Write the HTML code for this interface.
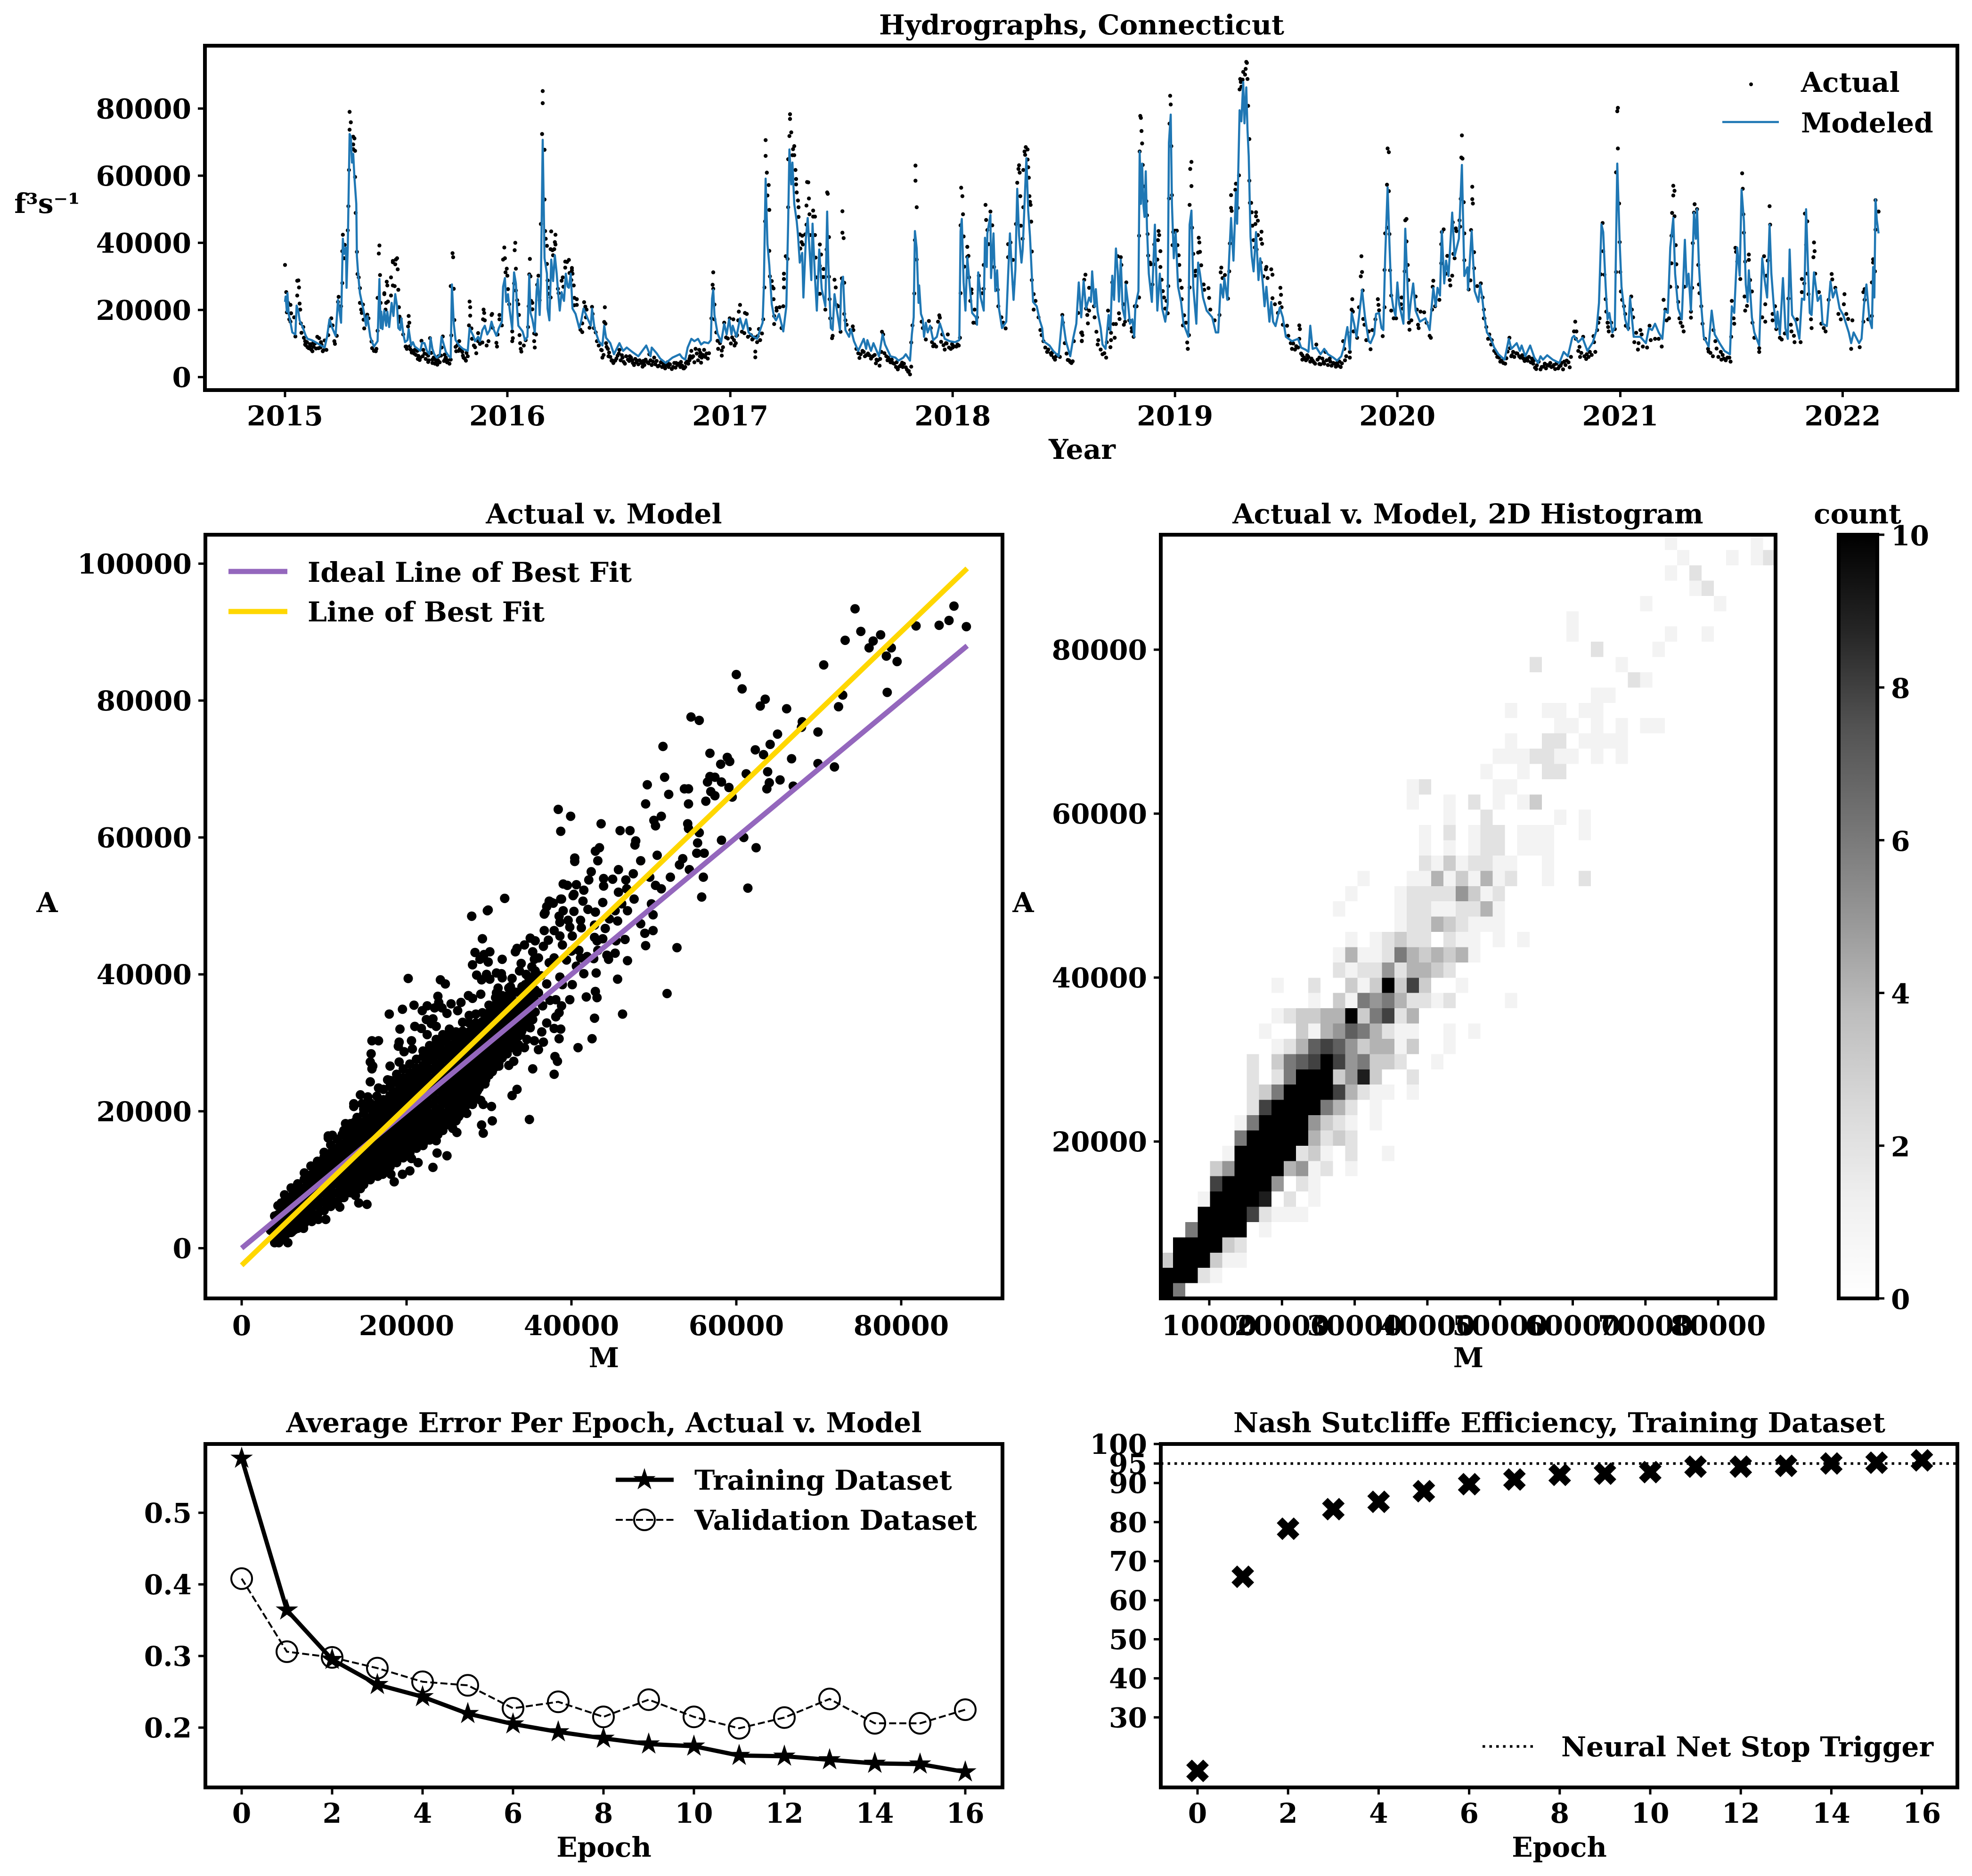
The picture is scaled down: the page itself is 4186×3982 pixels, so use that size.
<!DOCTYPE html>
<html>
<head>
<meta charset="utf-8">
<title>Hydrographs, Connecticut</title>
<style>
html,body{margin:0;padding:0;background:#fff}
svg{display:block}
text{font-family:"DejaVu Serif","Liberation Serif",serif;font-weight:bold;fill:#000;font-size:58.2px}
.title{text-anchor:middle}
.mid{text-anchor:middle}
.frame{fill:none;stroke:#000;stroke-width:8}
</style>
</head>
<body>
<svg id="figure" xmlns="http://www.w3.org/2000/svg" width="4186" height="3982" viewBox="0 0 4186 3982">
<defs>
<linearGradient id="greys" x1="0" y1="1" x2="0" y2="0">
<stop offset="0" stop-color="#ffffff"/><stop offset="0.125" stop-color="#f0f0f0"/><stop offset="0.25" stop-color="#d9d9d9"/><stop offset="0.375" stop-color="#bdbdbd"/><stop offset="0.5" stop-color="#969696"/><stop offset="0.625" stop-color="#737373"/><stop offset="0.75" stop-color="#525252"/><stop offset="0.875" stop-color="#252525"/><stop offset="1" stop-color="#000000"/>
</linearGradient>
</defs>
<rect width="4186" height="3982" fill="#fff"/>
<g id="hydro-marks"></g>
<g id="scatter-marks"></g>
<g id="hist-marks"></g>
<g id="error-marks"></g>
<g id="nse-marks"></g>
<rect x="3903" y="1135" width="82" height="1621" fill="url(#greys)"/>

<rect class="frame" x="435" y="97" width="3720" height="731"/>
<rect class="frame" x="436" y="1135" width="1692" height="1621"/>
<rect class="frame" x="2464" y="1135" width="1305" height="1621"/>
<rect class="frame" x="3903" y="1135" width="82" height="1621"/>
<rect class="frame" x="436" y="3065" width="1692" height="729"/>
<rect class="frame" x="2464" y="3065" width="1691" height="729"/>
<g id="ticks"></g>

<text class="title" x="2296" y="73">Hydrographs, Connecticut</text>
<text class="mid" x="2297" y="974">Year</text>
<text class="mid" x="100" y="452">f³s⁻¹</text>
<text x="3823" y="195">Actual</text>
<text x="3823" y="281">Modeled</text>
<circle cx="3717" cy="179" r="4" fill="#000"/>
<line x1="3656" y1="259" x2="3776" y2="259" stroke="#1f77b4" stroke-width="4.5"/>

<text class="title" x="1282" y="1111">Actual v. Model</text>
<text class="mid" x="1282" y="2902">M</text>
<text class="mid" x="100" y="1936">A</text>
<line x1="485" y1="1213" x2="610" y2="1213" stroke="#9467bd" stroke-width="11"/>
<line x1="485" y1="1298" x2="610" y2="1298" stroke="#ffd700" stroke-width="11"/>
<text x="653" y="1235">Ideal Line of Best Fit</text>
<text x="653" y="1319">Line of Best Fit</text>

<text class="title" x="3116" y="1111">Actual v. Model, 2D Histogram</text>
<text class="title" x="3943" y="1111">count</text>
<text class="mid" x="3117" y="2902">M</text>
<text class="mid" x="2172" y="1936">A</text>

<text class="title" x="1282" y="3040">Average Error Per Epoch, Actual v. Model</text>
<text class="mid" x="1282" y="3941">Epoch</text>
<text x="1474" y="3162">Training Dataset</text>
<text x="1474" y="3247">Validation Dataset</text>
<g id="error-legend"></g>

<text class="title" x="3310" y="3040">Nash Sutcliffe Efficiency, Training Dataset</text>
<text class="mid" x="3310" y="3941">Epoch</text>
<line x1="3147" y1="3707" x2="3255" y2="3707" stroke="#000" stroke-width="5.5" stroke-dasharray="5.5 9"/>
<text x="3314" y="3728">Neural Net Stop Trigger</text>
</svg>
<script>
// ---------- HYDROGRAPH DATA (days since 2015-01-01; flow in hundreds of f3/s) ----------
const yearLabels=[2015,2016,2017,2018,2019,2020,2021,2022];
const yearDays=[0,365,731,1096,1461,1826,2192,2557];
const hydroYTicks=[0,20000,40000,60000,80000];
const modeledDays=[0,1,3,4,6,10,12,17,19,22,24,29,34,37,44,50,59,65,69,73,77,83,87,92,95,97,100,101,103,106,108,110,112,114,117,118,120,123,126,129,133,135,138,140,143,146,152,155,157,158,160,163,166,168,171,175,178,181,184,186,189,191,194,197,201,203,207,210,213,218,222,225,229,233,237,239,242,245,249,254,257,260,264,269,272,274,277,280,286,292,300,303,309,312,317,320,324,328,332,336,339,343,347,351,356,358,361,363,366,369,373,376,379,381,383,390,394,398,401,403,406,410,413,415,418,420,423,426,430,431,434,437,440,443,446,449,451,454,458,461,464,466,469,472,477,483,486,490,498,502,504,508,515,521,524,527,534,540,549,555,561,570,580,593,600,602,610,616,625,636,648,
652,657,661,667,672,678,683,688,695,699,701,703,705,710,716,721,725,729,733,735,741,747,752,757,761,769,775,784,786,789,792,795,799,803,806,811,818,823,826,828,831,833,836,840,842,845,849,851,855,858,864,866,870,873,877,881,887,890,892,896,899,902,906,911,913,916,920,926,929,934,941,950,954,956,962,966,975,981,985,994,1002,1007,1015,1019,1026,1029,1032,1034,1037,1040,1041,1044,1047,1049,1052,1055,1059,1064,1070,1075,1083,1091,1100,1107,1109,1111,1114,1117,1120,1123,1128,1134,1136,1138,1142,1147,1149,1152,1153,1158,1159,1163,1166,1169,1172,1177,1184,1187,1190,1193,1196,1199,1202,1205,1209,1211,1217,1220,1223,1228,1234,1239,1243,1245,1255,1261,1270,1276,1282,1289,1294,1299,1303,
1307,1311,1315,1320,1323,1325,1329,1331,1334,1339,1342,1347,1352,1355,1358,1361,1364,1367,1369,1372,1375,1379,1380,1384,1387,1391,1394,1396,1401,1403,1405,1407,1409,1411,1413,1415,1418,1423,1428,1432,1436,1440,1445,1449,1451,1454,1456,1459,1462,1466,1471,1475,1483,1485,1488,1491,1496,1499,1502,1507,1513,1522,1528,1532,1536,1540,1542,1547,1550,1553,1557,1561,1563,1567,1570,1573,1575,1578,1580,1582,1585,1587,1590,1594,1598,1601,1605,1608,1611,1616,1619,1622,1626,1633,1638,1643,1653,1663,1668,1676,1680,1683,1687,1693,1700,1706,1712,1721,1727,1734,1738,1744,1748,1751,1755,1759,1763,1768,1773,1779,1782,1788,1791,1796,1800,1803,1806,1810,1813,1816,1819,1823,1826,1829,1836,1839,1842,1845,1848,1852,1856,1863,1872,1879,1885,1889,1892,1896,1899,1903,1906,1910,1912,1916,1920,1927,1932,1936,1941,1942,1948,1953,1959,1962,1965,1968,1973,1979,1985,1992,2002,2009,2013,2022,2027,2030,2036,2044,2051,2057,2061,2065,2072,2081,2092,2099,2106,2113,2116,2123,2130,2138,2147,2153,2157,2161,2164,2166,2168,2171,2174,2179,2183,2187,2191,2194,2200,2205,2208,2214,2225,2234,2239,2244,2249,2255,2261,2265,2270,2274,2279,2282,2287,2293,2298,2301,2304,2308,2313,2316,2318,2321,2325,2329,2337,2342,2347,2355,2363,2372,2375,2379,2384,2388,2391,2395,2398,2401,2403,2408,2412,2420,2425,2429,2433,2437,2440,2444,2448,2450,2454,2459,2463,2467,2470,2474,2480,2486,2490,2494,2497,2500,2503,2506,2510,2516,2521,2524,2531,2537,2541,2546,2552,2558,2567,2571,2575,2584,2588,2592,2596,2601,2605,2607,2609,2611,2613,2616];
const modeledFlow=[224,240,195,250,188,153,133,127,213,195,169,149,123,114,110,104,94,88,120,172,149,123,230,162,412,367,386,266,386,724,717,639,665,594,516,360,308,250,224,198,153,182,146,120,104,91,107,292,146,195,143,198,153,195,149,221,182,247,211,146,140,175,130,104,110,143,94,104,91,84,78,102,101,78,68,117,84,68,58,65,120,101,75,62,58,276,159,110,94,84,78,146,123,107,120,107,140,153,127,140,165,140,123,146,165,269,295,224,247,198,143,312,279,204,153,136,110,120,305,191,172,133,256,292,185,276,707,354,308,204,169,350,286,363,308,237,198,253,227,308,269,266,308,204,188,146,165,204,169,153,204,146,107,94,153,117,101,68,101,78,88,75,62,94,62,88,71,55,42,58,68,
58,52,88,114,107,114,97,104,101,110,234,260,185,130,104,159,127,172,127,153,120,175,143,172,133,120,114,162,269,591,396,334,217,178,169,188,136,211,464,678,574,639,516,464,425,341,370,237,412,474,289,457,295,198,380,263,211,493,334,146,140,247,198,140,276,299,140,120,143,107,78,114,84,110,78,101,62,127,97,62,58,49,58,68,49,127,178,435,383,221,273,188,172,120,162,133,153,110,120,160,114,107,104,110,435,471,282,198,357,295,191,178,156,312,237,198,415,328,428,483,295,428,256,318,204,146,165,302,428,321,230,321,561,422,341,380,652,496,419,224,211,169,146,107,94,78,62,182,107,62,117,159,282,
178,286,204,237,224,315,210,262,194,146,97,84,185,139,302,230,383,315,225,350,204,172,276,218,159,172,120,211,256,672,516,636,516,477,613,445,308,224,454,198,308,204,165,217,698,782,516,354,432,269,224,159,120,454,496,269,159,341,308,237,198,178,133,133,276,237,295,230,360,474,347,551,457,795,762,879,756,863,736,658,418,360,315,432,289,354,282,211,269,165,224,165,152,207,178,120,107,114,88,81,75,153,84,88,68,84,68,58,49,62,88,149,81,191,159,120,178,260,178,107,101,127,188,191,146,140,357,565,399,250,211,182,282,217,159,442,302,172,224,279,198,165,175,140,266,211,266,243,435,279,347,301,366,490,360,412,632,301,327,260,435,256,224,276,243,191,133,117,88,68,52,114,84,101,78,94,62,94,58,42,62,52,65,52,42,75,62,117,123,104,117,78,104,140,221,455,432,347,269,172,191,133,149,636,399,269,172,140,237,120,120,101,146,140,159,133,114,198,191,386,474,308,204,172,409,269,308,198,490,412,500,334,211,120,91,198,127,101,78,68,211,191,386,302,558,464,276,224,318,178,133,94,354,289,237,454,308,211,146,195,127,295,146,114,380,185,165,114,234,230,500,334,191,185,312,227,243,159,152,285,237,263,204,185,133,101,133,101,114,214,276,172,146,328,237,529,470,428];
const actualDays=[0,2,5,9,3,10,7,9,15,17,20,20,22,23,24,25,26,30,27,31,33,33,37,42,45,46,53,56,55,59,62,65,68,71,73,76,78,81,82,85,87,88,92,95,98,97,94,94,103,104,105,106,106,108,112,114,112,115,112,115,116,118,119,121,123,123,128,125,126,129,130,135,137,133,142,143,146,150,149,152,155,154,156,157,152,163,163,167,168,165,166,169,174,174,177,177,181,184,182,185,177,180,186,187,188,188,203,204,202,190,194,198,199,206,208,213,219,221,218,224,227,233,235,235,238,242,242,247,250,252,259,257,262,264,266,272,273,272,275,276,277,278,280,281,286,287,291,293,297,300,303,304,304,302,306,307,310,312,314,317,317,320,324,325,326,327,328,331,334,339,340,341,347,348,349,352,352,356,358,361,360,362,364,365,366,365,368,377,378,379,376,379,381,383,384,373,374,373,385,386,387,388,392,395,399,400,402,401,403,404,406,406,409,412,409,410,416,414,418,420,422,423,423,426,426,427,428,430,430,437,444,443,444,436,439,442,440,431,433,433,436,448,449,454,456,457,460,466,463,460,471,471,467,472,470,474,475,479,479,475,491,493,495,504,505,494,488,485,488,500,507,510,512,515,519,521,525,524,526,527,530,532,536,542,549,553,556,566,571,578,587,589,597,598,606,612,623,624,635,642,650,
648,654,658,665,667,664,674,680,681,684,683,688,696,700,702,703,703,705,705,708,710,711,714,717,717,719,721,730,736,734,727,740,738,741,745,747,744,755,758,754,763,769,775,780,772,772,778,785,787,788,789,789,791,792,794,795,795,796,799,800,802,802,803,803,807,812,807,815,818,819,819,819,822,825,826,826,828,829,829,831,834,836,833,836,838,839,839,840,842,843,843,845,849,848,850,846,854,857,859,860,856,861,867,867,870,856,862,870,878,880,871,878,884,872,881,884,875,878,887,890,891,889,893,893,894,895,898,899,902,904,908,906,912,914,915,915,917,918,918,920,922,932,928,933,938,941,943,948,954,959,971,970,977,976,980,982,984,987,992,998,1006,1009,1013,1019,1023,1026,1028,1028,1030,1035,1035,1037,1034,1037,1033,1045,1047,1057,1060,1052,1066,1069,1074,1075,1072,1079,1088,1083,1085,1093,1096,1102,1106,1108,1109,1110,1112,1113,1109,1114,1115,1120,1122,1120,1123,1127,1127,1125,1132,1130,1134,1136,1139,1140,1145,1147,1147,1150,1151,1153,1158,1161,1155,1164,1170,1171,1176,1179,1183,1187,1187,1191,1195,1196,1200,1202,1204,1205,1206,1212,1207,1208,1211,1212,1214,1215,1216,1219,1219,1220,1221,1222,1223,1224,1225,1226,1226,1229,1232,1229,1237,1240,1245,1251,1257,1262,1268,1276,1277,1280,1285,1289,1293,1295,1302,1308,1308,
1314,1312,1320,1315,1317,1320,1318,1307,1309,1308,1328,1329,1332,1335,1334,1339,1342,1345,1348,1349,1355,1356,1356,1362,1351,1353,1358,1360,1364,1369,1370,1367,1372,1373,1381,1376,1379,1377,1386,1390,1390,1393,1395,1398,1402,1402,1403,1404,1405,1406,1407,1408,1409,1414,1415,1416,1417,1420,1421,1426,1427,1434,1435,1433,1437,1432,1437,1439,1424,1441,1443,1447,1445,1449,1450,1451,1452,1453,1454,1455,1456,1458,1457,1461,1464,1465,1467,1468,1469,1472,1472,1476,1474,1479,1481,1482,1484,1485,1486,1488,1488,1485,1489,1491,1494,1495,1494,1500,1501,1499,1502,1504,1508,1516,1509,1517,1519,1526,1534,1537,1536,1539,1543,1548,1550,1551,1553,1554,1553,1560,1561,1564,1566,1567,1568,1569,1570,1572,1573,1576,1577,1578,1579,1580,1581,1583,1583,1584,1586,1587,1594,1594,1597,1593,1588,1597,1603,1602,1604,1590,1592,1595,1602,1611,1610,1619,1621,1613,1606,1634,1635,1633,1636,1621,1625,1630,1638,1645,1647,1651,1653,1658,1665,1666,1665,1670,1670,1678,1678,1687,1689,1693,1698,1698,1700,1705,1708,1715,1721,1725,1727,1735,1737,1739,1748,1748,1744,1752,1753,1751,1754,1760,1763,1766,1767,1768,1769,1770,1772,1775,1779,1782,1785,1794,1795,1796,1790,1802,1805,1805,1806,1809,1809,1810,1812,1812,1813,1814,1816,1816,1820,1824,1833,1832,1835,1838,1839,1841,1841,1843,1844,1845,1846,1849,1856,1858,1860,1861,1864,1870,1874,1879,1881,1884,1885,1883,1888,1895,1898,1898,1899,1902,1906,1908,1912,1913,1916,1917,1918,1920,1922,1923,1928,1929,1930,1931,1933,1932,1935,1936,1936,1947,1949,1950,1949,1952,1952,1943,1946,1957,1963,1968,
1963,1966,1968,1969,1972,1977,1975,1981,1980,1985,1988,1993,1997,2003,2010,2013,2014,2021,2026,2033,2040,2047,2052,2054,2061,2066,2072,2081,2085,2092,2098,2104,2109,2118,2116,2120,2119,2123,2126,2131,2137,2136,2142,2148,2149,2151,2154,2156,2158,2160,2163,2164,2166,2168,2169,2171,2172,2173,2177,2179,2183,2185,2185,2187,2188,2188,2190,2191,2192,2193,2195,2198,2200,2201,2205,2210,2211,2213,2218,2215,2222,2221,2225,2227,2229,2236,2240,2242,2249,2255,2260,2263,2266,2268,2272,2274,2276,2277,2276,2279,2281,2279,2281,2283,2284,2285,2287,2289,2291,2294,2296,2297,2308,2308,2310,2311,2314,2313,2318,2320,2321,2322,2325,2327,2331,2337,2336,2345,2348,2357,2362,2371,2374,2375,2378,2379,2381,2382,2384,2389,2392,2393,2394,2395,2397,2396,2397,2400,2403,2403,2405,2408,2409,2412,2420,2420,2425,2428,2430,2430,2432,2437,2438,2434,2442,2442,2446,2448,2454,2457,2462,2468,2472,2473,2477,2478,2482,2488,2490,2490,2494,2495,2499,2497,2499,2501,2505,2506,2510,2511,2509,2512,2518,2522,2526,2529,2534,2539,2540,2545,2550,2554,2560,2559,2563,2566,2573,2571,2585,2591,2593,2593,2591,2599,2605,2607,2607,2605,2610,2611,2611,2616];
const actualFlow=[334,253,221,215,193,190,172,165,178,121,243,287,288,267,219,201,160,149,132,117,107,97,89,93,77,101,120,116,86,104,77,109,81,125,153,175,154,107,99,123,224,239,211,424,394,354,375,280,437,509,617,737,790,759,716,711,693,674,679,596,489,373,307,297,265,221,216,201,191,171,145,186,175,178,106,86,78,84,77,236,392,368,304,221,138,250,247,284,273,201,221,225,297,243,346,342,336,354,350,321,273,271,260,208,180,165,182,162,151,173,127,91,91,82,73,81,63,51,54,108,81,68,64,45,116,52,42,52,37,62,121,88,67,58,44,52,124,271,369,357,263,170,90,77,107,84,75,58,49,62,225,208,183,154,145,114,94,89,71,131,107,99,103,172,201,191,169,94,107,185,188,147,102,91,127,172,185,154,350,354,386,312,323,302,262,230,217,378,400,323,279,258,229,217,185,136,116,107,125,101,84,76,94,110,149,211,352,306,300,227,221,202,130,127,107,88,302,275,229,456,724,852,816,677,529,435,412,391,337,434,424,402,395,381,378,381,363,288,266,248,237,263,250,287,297,269,344,349,343,326,325,318,310,308,289,273,236,232,215,214,223,210,201,209,188,178,160,141,134,147,146,133,107,94,81,58,208,164,159,101,84,73,49,49,81,65,45,62,42,49,31,45,41,68,58,32,32,26,24,42,45,
36,26,42,62,78,55,84,81,62,58,43,81,71,175,275,312,263,216,172,133,108,84,101,79,64,89,162,175,172,118,115,101,94,123,195,215,169,191,188,131,143,117,104,110,76,59,143,172,267,464,659,706,609,541,572,498,376,300,286,269,264,232,182,158,206,208,198,146,211,308,292,267,360,352,506,649,718,783,769,729,679,688,661,661,617,590,574,550,526,506,477,425,421,402,395,383,425,581,580,532,511,485,496,478,478,454,423,423,395,365,356,331,322,297,298,298,248,248,201,550,546,380,417,299,232,175,116,123,290,267,211,214,135,294,494,430,414,281,188,169,156,151,140,140,84,71,57,78,65,65,52,41,54,34,135,127,71,62,52,42,23,32,43,29,16,8,31,103,154,630,585,506,408,350,249,165,146,167,146,112,97,91,184,177,165,127,127,82,101,84,88,91,94,117,250,564,539,485,452,419,329,388,361,358,297,261,250,227,201,162,162,178,302,263,250,263,334,513,468,438,493,452,396,328,260,211,178,162,145,396,357,401,349,276,456,579,620,631,609,617,539,451,412,506,672,662,685,678,648,625,594,539,522,513,463,374,289,247,227,201,178,140,107,75,71,58,65,185,162,101,51,45,47,107,191,133,107,
305,290,266,204,185,198,160,132,125,108,211,178,135,110,97,82,68,71,58,104,89,132,110,117,198,145,282,158,158,190,173,360,357,334,282,217,165,156,169,146,136,120,211,211,237,421,672,778,772,733,696,632,568,524,482,426,362,341,336,336,395,435,423,408,375,350,328,290,276,256,237,227,204,190,271,532,755,838,812,688,542,432,393,436,436,393,363,334,288,266,232,184,154,162,103,84,125,513,620,641,569,267,445,367,315,317,302,415,401,371,373,333,276,265,260,236,201,169,185,326,312,295,304,234,315,398,504,495,542,558,576,504,601,857,888,879,865,886,909,901,918,939,936,888,808,709,585,519,519,491,491,479,466,456,451,423,433,411,397,408,386,380,341,328,321,321,305,295,300,266,245,221,208,235,217,191,156,153,123,101,84,82,154,143,114,65,52,65,54,49,44,97,58,39,38,45,75,55,42,31,42,41,107,84,58,75,133,232,195,201,136,117,208,300,360,313,258,173,156,110,136,83,140,232,215,199,172,122,208,319,428,445,573,681,670,554,426,318,243,198,175,175,237,217,204,315,467,471,404,334,289,162,141,169,240,201,156,146,195,193,162,123,117,269,287,201,211,230,339,396,432,440,308,361,289,273,302,461,367,354,443,435,467,448,531,654,651,720,521,428,348,438,530,517,567,372,324,261,288,271,279,175,
279,237,201,175,149,127,114,110,97,78,71,58,49,40,117,62,65,71,62,55,49,55,28,24,23,31,36,32,24,32,23,49,29,165,136,136,114,78,60,120,68,54,75,122,104,75,140,162,175,306,459,375,305,232,195,162,149,136,162,123,143,313,610,792,802,681,517,402,313,255,230,211,188,153,146,240,201,178,132,104,101,82,140,127,91,88,153,110,114,114,91,230,201,169,175,269,339,489,421,570,555,541,479,393,336,268,224,175,162,151,136,269,195,177,266,399,515,490,500,334,276,250,211,159,114,76,84,140,107,75,55,58,120,227,175,159,385,373,344,292,607,561,485,430,344,240,198,212,365,349,289,255,162,117,86,75,178,360,165,217,302,509,454,347,188,169,211,143,117,112,130,234,156,136,123,104,172,104,292,253,279,487,464,394,308,247,172,146,401,375,357,308,253,159,146,136,230,307,291,266,188,172,247,217,188,173,169,84,89,253,262,230,165,172,182,351,341,282,315,527,439,493];
const lowFlowDays=[34,36,39,41,43,47,49,51,58,60,63,200,205,209,212,215,217,222,226,229,231,236,240,244,246,248,251,254,256,261,263,267,270,283,285,289,292,295,298,520,523,528,531,534,537,539,544,546,548,551,554,558,560,563,565,568,570,573,575,577,580,582,585,588,590,592,595,600,602,604,608,610,614,617,619,621,626,628,630,632,637,639,641,644,646,649,652,655,657,660,662,664,668,670,672,676,678,682,686,690,692,694,724,732,737,742,750,760,765,767,771,776,783,945,950,952,957,962,965,968,973,979,989,990,994,996,1000,1003,1004,1011,1014,1016,1021,1024,1062,1064,1077,1081,1086,1090,1095,1098,1104,1242,1248,1253,1258,1260,1264,1266,1272,1283,1287,1291,1655,1660,1663,1668,1673,1676,1680,1683,1685,1691,1695,1703,1706,1710,1712,1716,1718,1723,1729,1731,1733,1740,1742,1990,1995,2000,2005,2007,2011,2016,2018,2023,2028,2031,2035,2038,2042,2045,2049,2050,2055,2058,2063,2068,2070,2075,2077,2079,2083,2087,2090,2094,2096,2100,2102,2107,2111,2125,2128,2133,2140,2145,2340,2344,2350,2353,2358,2360,2365,2368,2373];
const lowFlowValues=[95,104,86,98,82,90,100,85,88,96,80,84,92,78,70,66,78,58,62,70,54,50,72,58,40,46,50,44,64,48,54,50,40,95,78,82,64,55,72,80,66,90,62,60,50,42,55,64,70,50,58,40,62,52,48,58,50,36,54,44,38,50,42,48,36,52,44,50,36,46,38,48,34,44,30,40,36,44,30,38,30,42,28,36,40,30,34,26,30,46,40,50,58,62,44,70,50,72,66,60,70,55,118,100,110,125,135,120,125,112,118,122,130,68,75,62,70,55,62,66,50,75,50,58,44,52,40,30,44,36,30,40,22,18,104,92,105,95,100,88,98,92,97,125,88,82,66,74,52,62,60,70,50,42,100,92,88,70,58,50,60,46,55,40,52,55,40,50,36,46,34,40,34,46,30,50,62,60,46,42,56,76,86,75,60,70,58,65,48,56,60,44,40,50,35,46,30,40,26,34,42,30,36,40,26,34,42,46,36,44,60,90,72,62,60,66,72,62,85,60,52,66,50,58,46];

// ---------- SCATTER DATA (hundreds of f3/s) ----------
const scatterXTicks=[0,20000,40000,60000,80000];
const scatterYTicks=[0,20000,40000,60000,80000,100000];
const idealFitM=[0,880];
const idealFitA=[0,880];
const bestFitM=[0,880];
const bestFitA=[-25,993];
const sparseM=[744,751,732,775,766,761,788,782,795,783,818,846,858,864,879,706,729,724,719,699,699,680,679,667,669,661,600,607,635,629,650,641,633,623,612,638,653,637,640,609,624,614,545,555,511,568,589,592,581,568,574,565,513,492,537,542,518,569,574,563,582,591,595,490,542,509,500,502,541,542,555,553,582,552,561,535,531,504,484,495,520,543,560,558,528,516,384,399,387,436,459,471,319,299,279,292,478,477,434,429,432,404,404,457,424,475,466,450,439,421,390,395,406,502,509,467,457,439,415,403,387,373,376,368,
202,241,247,279,298,319,292,283,294,301,289,280,299,316,285,291,297,301,309,316,315,238,239,209,195,179,192,210,218,225,219,225,234,243,249,254,262,266,275,280,290,224,232,230,236,206,191,190,197,207,158,166,157,156,159,158,180,191,156,177,166,144,153,136,146,136,126,137,105,110,105,122,106,88,96,86,78,62,68,58,48,43,35,45,56,61,75,102,93,85,119,142,152,122,138,144,185,195,204,181,171,165,232,237,249,206,214,185,178,193,198,222,236,238,230,224,208,256,261,247,237,228,263,273,256,248,263,280,290,293,303,304,291,293,349,462,428,425,408,380,383,379,353,334,328,286,272,253,248,255,295,294,298,271,278,271,385,366,360,355,346,364,379,387,370,353,381,385,388,365,398,418,429,431,456,468,453,490,489,499,484,499,465,445,415,430,401,389,381,374,360,352,340,353,324,330,312,299,301,322,334,343,336,326,339,350,327,337,314,307,367,370,373,378,388,402,414,420,429,390,403,385,396,386,411,398,412,367,379,386,401,428,441,446,453,456,438,461,476,497,468,372,350,356,343,334,332,353,366,389,400,409,411,419,427,428,431,438,432,443,454,339,352,337,328,326,311,309,320,316,373,394,406,386,370,353,363,360,379,355,345];
const sparseA=[934,901,888,896,887,877,877,865,857,812,909,910,917,938,908,852,808,791,703,754,708,769,761,715,675,788,838,817,802,792,751,736,721,728,693,696,684,671,680,600,585,526,776,771,733,723,717,711,707,689,688,681,688,677,671,671,663,667,661,653,681,673,659,649,649,631,625,617,620,613,607,592,596,577,577,569,560,574,566,542,542,553,542,513,439,372,641,631,609,620,610,610,511,494,485,452,595,589,585,580,566,570,565,553,550,547,538,539,540,538,532,530,531,530,525,525,520,529,523,517,510,506,505,490,
394,392,386,485,493,511,452,432,429,433,422,414,418,422,399,392,400,393,402,395,401,368,359,355,349,342,320,324,321,312,347,354,351,351,343,357,347,359,369,365,371,334,335,328,324,303,301,295,287,291,303,303,284,272,266,262,266,272,243,246,234,224,221,211,211,207,182,184,164,165,161,166,136,117,122,107,89,78,82,70,54,45,26,8,8,24,29,42,42,39,60,66,64,74,77,87,97,108,113,108,108,105,118,139,135,131,125,129,121,138,145,156,157,166,170,177,158,175,169,180,189,191,192,197,194,197,211,210,216,210,207,186,180,168,188,342,336,306,293,280,273,254,262,232,223,230,224,224,221,219,240,249,256,235,245,245,306,301,290,303,305,316,321,320,329,334,338,344,354,354,363,367,375,366,393,420,431,442,460,464,474,487,451,422,401,402,385,385,363,362,373,372,361,344,267,273,266,266,286,284,287,293,297,307,315,322,326,333,296,291,488,499,507,504,510,515,507,495,491,493,492,485,479,476,479,469,468,464,464,456,456,472,467,481,493,478,505,503,510,503,493,450,453,449,443,438,433,433,441,443,434,435,424,426,423,454,449,452,435,428,449,416,411,405,394,382,380,373,368,361,417,421,412,396,386,393,398,424,424,422,400];
const coreM=[40,48,56,64,72,80,88,96,104,112,120,128,136,144,152,160,168,176,184,192,200,208,216,224,232,240,248,256,264,272,280,288,296,304,312,320,328,336,344,352];
const coreA=[[8,21,34,47],[15,28,41,54,66],[22,35,48,61,74],[27,40,53,66,79],[35,48,61,74,87],[42,55,68,81,94,104],[49,62,75,88,101,113],[55,68,81,94,107,120],[62,75,88,101,114,127],[68,81,94,107,120,133,142],[75,88,101,114,127,140,152],[83,96,109,122,135,148,161],[90,103,116,129,142,155,168],[96,109,122,135,148,161,174,182],[103,116,129,142,155,168,181,190],[110,123,136,149,162,175,188,199],[116,129,142,155,168,181,194,207],[124,137,150,163,176,189,202,215],[130,143,156,169,182,195,208,221,229],[137,150,163,176,189,202,215,228,237],[144,157,170,183,196,209,222,235,247],[150,163,176,189,202,215,228,241,254],[157,170,183,196,209,222,235,248,262],[165,178,191,204,217,230,243,256,269,276],[171,184,197,210,223,236,249,262,275,285],[178,191,204,217,230,243,256,269,282,294],[185,198,211,224,237,250,263,276,289,302],[192,205,218,231,244,257,270,283,296,310],[194,207,220,233,246,259,272,285,298,312],[208,221,234,247,260,273,286,299,312],[218,231,244,257,270,283,296,309,322],[234,247,260,273,286,299,312,325],[246,259,272,285,298,311,324,337],[258,271,284,297,310,323,336,349],[271,284,297,310,323,336,349,362],[284,297,310,323,336,349,362],[297,310,323,336,349,362,375],[310,326,342,358,374],[325,341,357,373,385],[340,356,372,388]];
const bandM=[44,52,60,68,76,84,92,100,108,116,124,132,140,148,156,164,172,180,188,196,204,212,220,228,236,244,252,260,268,276,284,292,300,308,316,324,332,340,348,356];
const bandA=[[10,23,36,49,62],[17,30,43,56,69,78],[23,36,49,62,75,88],[29,42,55,68,81,94],[36,49,62,75,88,101,110],[42,55,68,81,94,107,120],[49,62,75,88,101,114,127],[55,68,81,94,107,120,133,140],[61,74,87,100,113,126,139,151],[68,81,94,107,120,133,146,159],[74,87,100,113,126,139,152,165,172],[81,94,107,120,133,146,159,172,182],[87,100,113,126,139,152,165,178,191],[93,106,119,132,145,158,171,184,197,203],[100,113,126,139,152,165,178,191,204,212],[106,119,132,145,158,171,184,197,210,222],[113,126,139,152,165,178,191,204,217,232],[119,132,145,158,171,184,197,210,223,236,245],[125,138,151,164,177,190,203,216,229,242,254],[132,145,158,171,184,197,210,223,236,249,262],[139,152,165,178,191,204,217,230,243,256,269],[146,159,172,185,198,211,224,237,250,263,276],[150,163,176,189,202,215,228,241,254,267,280,288],[158,171,184,197,210,223,236,249,262,275,288,296],[165,178,191,204,217,230,243,256,269,282,295,305],[172,185,198,211,224,237,250,263,276,289,302,312],[180,193,206,219,232,245,258,271,284,297,310,320],[186,199,212,225,238,251,264,277,290,303,316],[200,213,226,239,252,265,278,291,304,317,330],[212,225,238,251,264,277,290,303,316,329,340],[225,238,251,264,277,290,303,316,329,342],[240,253,266,279,292,305,318,331,344],[253,266,279,292,305,318,331,344,355],[265,278,291,304,317,330,343,356,366],[278,291,304,317,330,343,356,369],[291,304,317,330,343,356,369,380],[304,318,332,346,360,374],[318,334,350,366,382],[332,348,364,380,396],[345,361,377,393,405]];

// ---------- HISTOGRAM DATA (first non-empty column and bin counts per row, bottom row first) ----------
const histXTicks=[10000,20000,30000,40000,50000,60000,70000,80000];
const histYTicks=[20000,40000,60000,80000];
const colorbarTicks=[0,2,4,6,8,10];
const histBinShades=['#ffffff','#f3f3f3','#e2e2e2','#cccccc','#b3b3b3','#969696','#7a7a7a','#5f5f5f','#414141','#1d1d1d','#000000'];
const histStart=[0,0,0,1,2,3,3,4,4,5,6,6,7,7,7,7,9,8,9,12,9,14,14,15,19,14,15,16,21,21,21,23,20,20,26,27,28,32,28,35,38,30,35,33,33,39,43,41,42,41];
const histCounts=[[10,6],[10,10,10,2,1],[3,10,10,10,3,1,1],[10,10,10,10,3,2],[6,10,10,10,10,0,1],[10,10,10,10,8,2,1,1,1],[1,10,10,10,10,9,0,2,0,1],[8,10,10,10,10,5,0,2,1],[3,5,10,10,10,10,4,5,1,2,0,1],[1,10,10,10,10,10,2,3,1,0,2,0,0,1],[6,10,10,10,10,10,4,2,3,2],[1,6,10,10,10,10,5,3,2,1,0,1],[2,8,10,10,10,10,6,4,2,0,1],[2,3,6,10,10,10,10,8,4,2,1,1,0,1],[2,0,2,6,10,10,10,3,5,9,3,0,0,2],[2,0,3,6,7,8,10,8,5,6,3,3,2,0,0,1],[1,2,4,7,8,7,5,3,4,4,1,3,0,0,1],[1,0,0,3,1,4,5,7,6,4,2,1,1,0,0,1,0,1],[1,2,3,3,4,4,10,3,6,8,2,4],[1,0,3,1,6,5,6,4,2,2,1,2,0,0,0,0,1],[1,0,0,2,0,0,3,1,3,10,3,8,3,0,0,1],[2,1,2,2,5,2,4,4,3,2],[1,4,1,1,2,6,4,3,4,3,4,1],[1,0,1,2,3,2,2,0,2,1,1,0,1,0,1],[1,2,2,4,3,2,1,1,1],[1,0,0,0,0,1,2,2,1,1,2,2,4,1],[1,0,0,0,1,2,2,2,2,5,3,1,2],[1,0,0,0,1,1,4,1,3,1,4,1,2,0,0,1,0,0,2],[2,1,3,1,2,2,1,1,0,0,1],[1,0,1,0,1,2,2,0,1,1,1],[1,0,2,0,1,2,2,0,1,1,1,0,0,1],[1,0,0,2,0,0,0,0,0,1,0,1],[1,0,0,1,0,2,0,1,0,1,3],[1,2,0,0,0,0,0,1,1],[1,0,0,1,0,2,2],[1,1,1,2,2,1,1,0,1,0,1],[1,0,0,2,2,0,1,1,1,1],[1,1,0,1,0,1,0,1,1],[1,0,0,1,1,0,1,1],[1,1],[2,1],[2,0,0,0,0,0,0,1],[2,0,0,0,0,1],[1,0,0,0,0,0,0,0,1,0,0,1],[1],[1,0,0,0,0,0,1],[1,2],[1,0,2],[1,0,0,0,1,0,1,2],[1,0,0,0,0,0,0,1]];

// ---------- ERROR / NSE DATA ----------
const epochs=[0,1,2,3,4,5,6,7,8,9,10,11,12,13,14,15,16];
const epochTicks=[0,2,4,6,8,10,12,14,16];
const errorYTicks=[0.2,0.3,0.4,0.5];
const errorYLabels=['0.2','0.3','0.4','0.5'];
const trainingError=[0.576,0.364,0.295,0.26,0.243,0.2195,0.205,0.194,0.185,0.177,0.174,0.161,0.16,0.155,0.15,0.149,0.138];
const validationError=[0.408,0.306,0.298,0.283,0.264,0.259,0.227,0.236,0.215,0.239,0.215,0.199,0.214,0.24,0.206,0.206,0.225];
const nseValues=[16.3,66,78.3,83.3,85.2,87.9,89.7,90.9,92.1,92.4,92.8,94.2,94.2,94.4,95,95.2,95.8];
const nseYTicks=[100,95,90,80,70,60,50,40,30];
const stopTrigger=[95];

// ---------- AXIS FUNCTIONS ----------
const NS='http://www.w3.org/2000/svg';
const flowUnit=100;
const hydroX=d=>605+d/365.25*472.3;
const hydroY=v=>800.4-v*0.007125;
const scatterX=v=>513+v*0.0175;
const scatterY=v=>2649.4-v*0.01453;
const histX=v=>2567+(v-10000)*0.01543;
const histY=v=>2423-(v-20000)*0.0174;
const barY=v=>2756-v*162.1;
const errorEpochX=e=>513+e*96;
const errorY=v=>3667-(v-0.2)*1520;
const nseEpochX=e=>2542+e*96.1;
const nseY=v=>3065+(100-v)*8.29;
const histMinM=3325,histBinM=1691,histMinA=860,histBinA=1863;

function add(parent,tag,attrs){
  const el=document.createElementNS(NS,tag);
  for(const k in attrs){el.setAttribute(k,attrs[k]);}
  parent.appendChild(el);
  return el;
}
function starPoints(cx,cy,r){
  const p=[];
  for(let i=0;i<10;i++){
    const a=-Math.PI/2+i*Math.PI/5;
    const q=i%2?r*0.382:r;
    p.push((cx+q*Math.cos(a)).toFixed(1)+','+(cy+q*Math.sin(a)).toFixed(1));
  }
  return p.join(' ');
}
function xMarkerPoints(cx,cy,u){
  const shape=[[-1,-2],[0,-1],[1,-2],[2,-1],[1,0],[2,1],[1,2],[0,1],[-1,2],[-2,1],[-1,0],[-2,-1]];
  return shape.map(s=>(cx+s[0]*u).toFixed(1)+','+(cy+s[1]*u).toFixed(1)).join(' ');
}
const tickLayer=document.getElementById('ticks');
function xTick(name,x,axisBottom,label,baseline){
  const ln=add(tickLayer,'line',{x1:x,y1:axisBottom,x2:x,y2:axisBottom+15,stroke:'#000','stroke-width':5});
  
  
  const t=add(tickLayer,'text',{x:x,y:baseline,'text-anchor':'middle'});
  t.textContent=label;
  
  
}
function yTick(name,axisLeft,y,label){
  const ln=add(tickLayer,'line',{x1:axisLeft,y1:y,x2:axisLeft-15,y2:y,stroke:'#000','stroke-width':5});
  
  
  const t=add(tickLayer,'text',{x:axisLeft-29,y:y+21,'text-anchor':'end'});
  t.textContent=label;
  
  
}

// ---------- HYDROGRAPH ----------
const hydroG=document.getElementById('hydro-marks');
function flowDot(d,v){
  const c=add(hydroG,'circle',{cx:hydroX(d).toFixed(1),cy:hydroY(v*flowUnit).toFixed(1),r:4.2,fill:'#000'});
  
  
}
actualDays.forEach((d,i)=>flowDot(d,actualFlow[i]));
lowFlowDays.forEach((d,i)=>flowDot(d,lowFlowValues[i]));
const modeledLine=add(hydroG,'polyline',{points:modeledDays.map((d,i)=>hydroX(d).toFixed(1)+','+hydroY(modeledFlow[i]*flowUnit).toFixed(1)).join(' '),fill:'none',stroke:'#1f77b4','stroke-width':4.5,'stroke-linejoin':'round'});


yearDays.forEach((d,i)=>xTick('hydrograph-x',hydroX(d),828,String(yearLabels[i]),903));
hydroYTicks.forEach(v=>yTick('hydrograph-y',435,hydroY(v),String(v)));

// ---------- SCATTER ----------
const scatterG=document.getElementById('scatter-marks');
function scatterDot(m,a){
  const c=add(scatterG,'circle',{cx:scatterX(m*flowUnit).toFixed(1),cy:scatterY(a*flowUnit).toFixed(1),r:10,fill:'#000'});
  
  
}
sparseM.forEach((m,i)=>scatterDot(m,sparseA[i]));
coreM.forEach((m,i)=>coreA[i].forEach(a=>scatterDot(m,a)));
bandM.forEach((m,i)=>bandA[i].forEach(a=>scatterDot(m,a)));
const idealLine=add(scatterG,'line',{x1:scatterX(idealFitM[0]*flowUnit),y1:scatterY(idealFitA[0]*flowUnit),x2:scatterX(idealFitM[1]*flowUnit),y2:scatterY(idealFitA[1]*flowUnit),stroke:'#9467bd','stroke-width':11});


const bestLine=add(scatterG,'line',{x1:scatterX(bestFitM[0]*flowUnit),y1:scatterY(bestFitA[0]*flowUnit),x2:scatterX(bestFitM[1]*flowUnit),y2:scatterY(bestFitA[1]*flowUnit),stroke:'#ffd700','stroke-width':11});


scatterXTicks.forEach(v=>xTick('scatter-x',scatterX(v),2756,String(v),2834));
scatterYTicks.forEach(v=>yTick('scatter-y',436,scatterY(v),String(v)));

// ---------- HISTOGRAM ----------
const histG=document.getElementById('hist-marks');
histCounts.forEach((row,r)=>{
  row.forEach((count,j)=>{
    if(!count){return;}
    const col=histStart[r]+j;
    const x0=histX(histMinM+col*histBinM),x1=histX(histMinM+(col+1)*histBinM);
    const y0=histY(histMinA+(r+1)*histBinA),y1=histY(histMinA+r*histBinA);
    const cell=add(histG,'rect',{x:x0.toFixed(1),y:y0.toFixed(1),width:(x1-x0).toFixed(1),height:(y1-y0).toFixed(1),fill:histBinShades[count],'shape-rendering':'crispEdges'});
    
    
  });
});
histXTicks.forEach(v=>xTick('histogram-x',histX(v),2756,String(v),2834));
histYTicks.forEach(v=>yTick('histogram-y',2464,histY(v),String(v)));
colorbarTicks.forEach(v=>{
  const y=barY(v);
  const ln=add(tickLayer,'line',{x1:3985,y1:y,x2:4000,y2:y,stroke:'#000','stroke-width':5});
  
  
  const t=add(tickLayer,'text',{x:4014,y:y+22.5});
  t.textContent=String(v);
  
  
});

// ---------- ERROR ----------
const errorG=document.getElementById('error-marks');
const valLine=add(errorG,'polyline',{points:epochs.map((e,i)=>errorEpochX(e)+','+errorY(validationError[i]).toFixed(1)).join(' '),fill:'none',stroke:'#000','stroke-width':4,'stroke-dasharray':'15 6.5'});


const trainLine=add(errorG,'polyline',{points:epochs.map((e,i)=>errorEpochX(e)+','+errorY(trainingError[i]).toFixed(1)).join(' '),fill:'none',stroke:'#000','stroke-width':9,'stroke-linejoin':'round'});


epochs.forEach((e,i)=>{
  const s=add(errorG,'polygon',{points:starPoints(errorEpochX(e),errorY(trainingError[i]),25),fill:'#000'});
  
  
  const c=add(errorG,'circle',{cx:errorEpochX(e),cy:errorY(validationError[i]).toFixed(1),r:22,fill:'none',stroke:'#000','stroke-width':4});
  
  
});
epochTicks.forEach(e=>xTick('error-x',errorEpochX(e),3794,String(e),3869));
errorYTicks.forEach((v,i)=>yTick('error-y',436,errorY(v),errorYLabels[i]));
const legendG=document.getElementById('error-legend');
const lt=add(legendG,'line',{x1:1307,y1:3141,x2:1430,y2:3141,stroke:'#000','stroke-width':9});


const ls=add(legendG,'polygon',{points:starPoints(1368,3141,25),fill:'#000'});


const lv=add(legendG,'line',{x1:1307,y1:3226,x2:1430,y2:3226,stroke:'#000','stroke-width':4,'stroke-dasharray':'15 6.5'});


const lc=add(legendG,'circle',{cx:1368,cy:3226,r:22,fill:'none',stroke:'#000','stroke-width':4});



// ---------- NSE ----------
const nseG=document.getElementById('nse-marks');
const stopLine=add(nseG,'line',{x1:2464,y1:nseY(stopTrigger[0]),x2:4155,y2:nseY(stopTrigger[0]),stroke:'#000','stroke-width':5.5,'stroke-dasharray':'5.5 9'});


epochs.forEach((e,i)=>{
  const m=add(nseG,'polygon',{points:xMarkerPoints(nseEpochX(e),nseY(nseValues[i]),12),fill:'#000'});
  
  
});
epochTicks.forEach(e=>xTick('nse-x',nseEpochX(e),3794,String(e),3869));
nseYTicks.forEach(v=>yTick('nse-y',2464,nseY(v),String(v)));
</script>
</body>
</html>
